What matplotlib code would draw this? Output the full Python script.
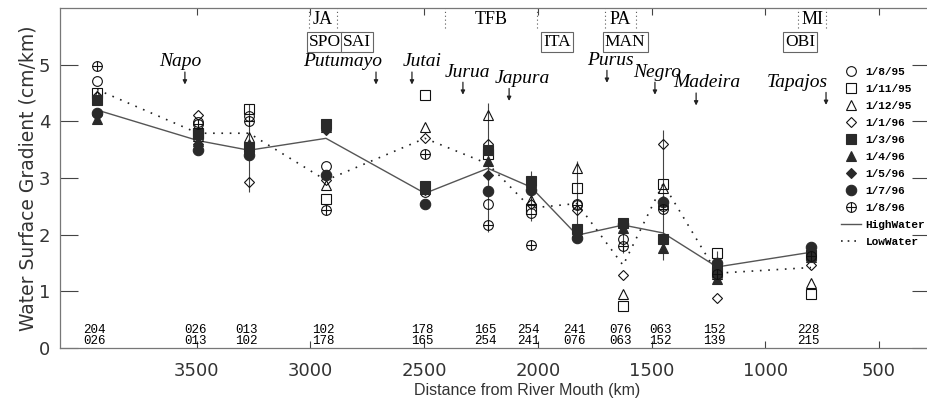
import numpy as np
import matplotlib
matplotlib.use("Agg")
import matplotlib.pyplot as plt
from matplotlib.lines import Line2D
from matplotlib.legend_handler import HandlerTuple

# distance of each gauge pair (km from the mouth)
station_km = [3937, 3493, 3269, 2931, 2496, 2219, 2030, 1827, 1625, 1449, 1212, 799]

# water surface gradient (cm/km) for each date
d_1_8_95 = [4.72, 3.98, 4.10, 3.22, 2.75, 2.55, 2.38, 2.55, 1.92, 2.50, 1.45, 1.70]
d_1_11_95 = [4.50, 3.80, 4.22, 2.63, 4.47, 3.42, 2.45, 2.83, 0.74, 2.90, 1.67, 0.96]
d_1_12_95 = [4.45, 3.75, 3.72, 2.88, 3.90, 4.12, 2.62, 3.18, 0.95, 2.82, 1.30, 1.15]
d_1_1_96 = [4.45, 4.12, 2.93, 2.97, 3.70, 3.60, 2.55, 2.43, 1.28, 3.60, 0.88, 1.47]
d_1_3_96 = [4.38, 3.78, 3.55, 3.95, 2.86, 3.50, 2.95, 2.10, 2.20, 1.92, 1.35, 1.65]
d_1_4_96 = [4.05, 3.65, 3.60, 3.90, 2.80, 3.30, 2.88, 2.05, 2.12, 1.77, 1.22, 1.60]
d_1_5_96 = [4.12, 3.60, 3.45, 3.85, 2.78, 3.05, 2.85, 2.05, 2.15, 2.60, 1.40, 1.60]
d_1_7_96 = [4.15, 3.50, 3.40, 3.05, 2.55, 2.77, 2.78, 1.95, 2.18, 2.57, 1.50, 1.78]
d_1_8_96 = [4.98, 3.95, 4.00, 2.43, 3.42, 2.17, 1.82, 2.52, 1.80, 2.45, 1.30, 1.62]

high_water = [4.20, 3.66, 3.49, 3.70, 2.73, 3.17, 2.84, 1.99, 2.17, 2.03, 1.43, 1.69]
low_water = [4.56, 3.79, 3.79, 2.96, 3.70, 3.25, 2.47, 2.55, 1.46, 2.90, 1.32, 1.42]

# vertical range bars
bar_lo = [np.nan, np.nan, 2.75, np.nan, np.nan, 2.05, 2.25, 1.88, 1.68, 1.55, 1.20, np.nan]
bar_hi = [np.nan, np.nan, 4.30, np.nan, np.nan, 4.32, 3.12, 3.30, 2.30, 3.85, 1.72, np.nan]

# gauge numbers under each point (upstream / downstream)
upper_ids = ['204', '026', '013', '102', '178', '165', '254', '241', '076', '063', '152', '228']
lower_ids = ['026', '013', '102', '178', '165', '254', '241', '076', '063', '152', '139', '215']

# tributaries
rivers = ['Napo', 'Putumayo', 'Jutai', 'Jurua', 'Japura', 'Purus', 'Negro', 'Madeira', 'Tapajos']
river_km = [3551, 2711, 2553, 2329, 2126, 1696, 1485, 1304, 733]
river_text_km = [3573, 2860, 2509, 2311, 2069, 1682, 1476, 1256, 860]
river_text_y = [5.05, 5.05, 5.05, 4.87, 4.76, 5.08, 4.87, 4.68, 4.69]

# reaches (dotted) and boxed stations
reaches = ['JA', 'TFB', 'PA', 'MI']
reach_start = [3005, 2408, 1704, 856]
reach_end = [2882, 2003, 1568, 733]
boxed = ['SPO', 'SAI', 'ITA', 'MAN', 'OBI']
boxed_km = [2935, 2795, 1915, 1616, 847]

dates = ['1/8/95', '1/11/95', '1/12/95', '1/1/96', '1/3/96', '1/4/96', '1/5/96', '1/7/96', '1/8/96']
series = [d_1_8_95, d_1_11_95, d_1_12_95, d_1_1_96, d_1_3_96, d_1_4_96, d_1_5_96, d_1_7_96, d_1_8_96]
markers = ['o', 's', '^', 'D', 's', '^', 'D', 'o', 'o']
filled = [False, False, False, False, True, True, True, True, False]
msizes = [7, 7, 7.5, 5.5, 7, 7.5, 5.5, 7.5, 7]

dark = '#2a2a2a'

fig = plt.figure(figsize=(9.27, 4.01), dpi=100)
ax = fig.add_axes([60 / 927, 53 / 401, 870 / 927, 340 / 401])

x = np.array(station_km)
ax.plot(x, high_water, '-', color='#555555', lw=1.0, zorder=2)
ax.plot(x, low_water, color='#222222', lw=1.2, ls=(0, (1, 4)), zorder=2)
ax.vlines(x, bar_lo, bar_hi, color='#444444', lw=0.8, zorder=2)

handles = []
for vals, m, f, ms in zip(series, markers, filled, msizes):
    if f:
        h = ax.plot(x, vals, m, ms=ms, mfc=dark, mec=dark, mew=0.8, ls='none', zorder=3)[0]
    else:
        h = ax.plot(x, vals, m, ms=ms, mfc='none', mec='#111111', mew=0.8, ls='none', zorder=3)[0]
    handles.append(h)
# last date is a circle with a cross
hp = ax.plot(x, d_1_8_96, '+', ms=7, mec='#111111', mew=0.8, ls='none', zorder=3)[0]
handles[-1] = (handles[-1], hp)
handles.append(Line2D([], [], color='#555555', lw=1.0))
handles.append(Line2D([], [], color='#222222', lw=1.2, ls=(0, (1, 3))))

ax.legend(handles, dates + ['HighWater', 'LowWater'],
          handler_map={tuple: HandlerTuple(ndivide=1)},
          loc='upper left', bbox_to_anchor=(841 / 927, 1 - 67 / 401),
          bbox_transform=fig.transFigure, frameon=False, borderpad=0,
          borderaxespad=0, handlelength=1.8, handletextpad=0.4,
          labelspacing=0.63,
          prop={'family': 'Liberation Mono', 'size': 8, 'weight': 'bold'})

# gauge id pairs
for xi, a, b in zip(x, upper_ids, lower_ids):
    ax.annotate(a, (xi, 0.32), xytext=(-2, 0), textcoords='offset points',
                ha='center', va='center', family='Liberation Mono', fontsize=9)
    ax.annotate(b, (xi, 0.12), xytext=(-2, 0), textcoords='offset points',
                ha='center', va='center', family='Liberation Mono', fontsize=9)

# tributary names and arrows
for name, rk, tk, ty in zip(rivers, river_km, river_text_km, river_text_y):
    ax.text(tk, ty, name, ha='center', va='center', style='italic',
            family='Liberation Serif', fontsize=14)
    ax.annotate('', xy=(rk, ty - 0.40), xytext=(rk, ty - 0.18),
                arrowprops=dict(arrowstyle='-|>', color='#222222', lw=0.9,
                                mutation_scale=6, shrinkA=0, shrinkB=0))

for name, s, e in zip(reaches, reach_start, reach_end):
    ax.vlines([s, e], 5.65, 6.0, color='#555555', lw=0.8, linestyles=(0, (1, 2.5)))
    ax.text((s + e) / 2, 5.79, name, ha='center', va='center',
            family='Liberation Serif', fontsize=13)

for name, k in zip(boxed, boxed_km):
    ax.text(k, 5.40, name, ha='center', va='center', family='Liberation Serif',
            fontsize=12.5, bbox=dict(boxstyle='square,pad=0.12', fc='white',
                                     ec='#666666', lw=0.8))

ax.set_xlim(4100, 276)
ax.set_ylim(0, 6)
ax.set_xticks([3500, 3000, 2500, 2000, 1500, 1000, 500])
ax.set_yticks([0, 1, 2, 3, 4, 5])
ax.tick_params(axis='x', direction='in', top=True, length=5, width=0.8,
               color='#444444', labelsize=13, pad=10)
ax.tick_params(axis='y', direction='in', right=True, length=13, width=0.8,
               color='#444444', labelsize=13, pad=7)
for lab in ax.get_xticklabels() + ax.get_yticklabels():
    lab.set_color('#333333')
for sp in ax.spines.values():
    sp.set_color('#777777')
    sp.set_linewidth(0.9)

ax.set_xlabel('Distance from River Mouth (km)', family='Liberation Sans',
              fontsize=11.5, color='#333333')
ax.xaxis.set_label_coords((527 - 60) / 870, -0.102)
ax.set_ylabel('Water Surface Gradient (cm/km)', fontsize=13.5, color='#333333',
              labelpad=1)

fig.savefig('out.png', dpi=100)
